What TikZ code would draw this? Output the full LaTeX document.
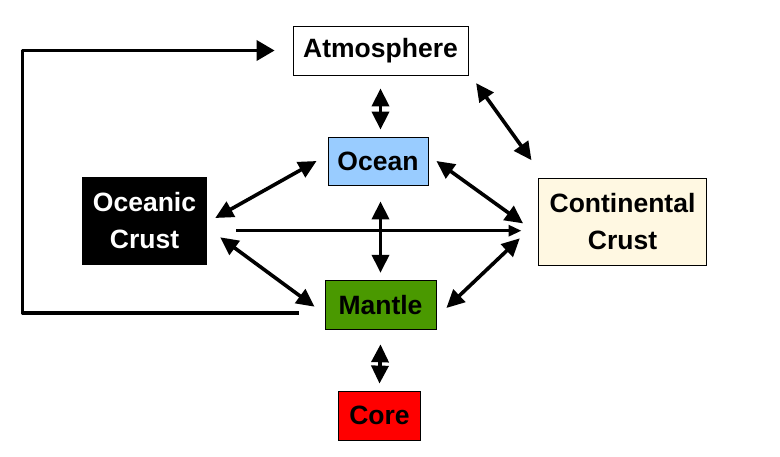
\documentclass[tikz,border=0pt]{standalone}
\usepackage{fontspec}
\setmainfont{Liberation Sans}
\usepackage{tikz}
\usetikzlibrary{arrows.meta, positioning}

\definecolor{oceanblue}{RGB}{153,204,255}
\definecolor{mantlegreen}{RGB}{74,153,0}
\definecolor{crustcream}{RGB}{255,248,226}

\tikzset{
    box/.style={draw, line width=0.8pt, inner sep=0pt, align=center,
        font=\bfseries\fontsize{26.5}{37}\selectfont},
    flow/.style={line width=3.6pt, {Triangle[length=18pt,width=17pt]}-{Triangle[length=18pt,width=17pt]}}
}

\begin{document}
\begin{tikzpicture}[x=1pt, y=-1pt]
        \useasboundingbox (0,0) rectangle (780,456);

        % Reservoirs
        \node[box, fill=white, minimum width=175pt, minimum height=49pt] (atm) at (380.5,50.5) {Atmosphere};
        \node[box, fill=oceanblue, minimum width=100pt, minimum height=48pt] (ocean) at (378,161) {Ocean};
        \node[box, fill=black, text=white, minimum width=124pt, minimum height=87pt] (ocrust) at (144.5,221) {Oceanic\\Crust};
        \node[box, fill=crustcream, minimum width=168pt, minimum height=87pt] (ccrust) at (622.5,221.7) {Continental\\Crust};
        \node[box, fill=mantlegreen, minimum width=111pt, minimum height=49pt] (mantle) at (380.5,304.7) {Mantle};
        \node[box, fill=red, minimum width=82pt, minimum height=49pt] (core) at (379.5,415.5) {Core};

        % Exchanges
        \draw[flow] ([yshift=-13pt]atm.south) -- ([xshift=2.5pt,yshift=7pt]ocean.north);
        \draw[flow] ([xshift=7.7pt,yshift=-7.7pt]atm.south east) -- ([xshift=-6.6pt,yshift=17.6pt]ccrust.north west);
        \draw[flow] ([xshift=-11pt]ocean.west) -- ([xshift=8.3pt,yshift=3pt]ocrust.east);
        \draw[flow] ([xshift=8pt]ocean.east) -- ([xshift=-15pt,yshift=-1.7pt]ccrust.west);
        \draw[flow] ([xshift=2.5pt,yshift=-16pt]ocean.south) -- ([yshift=7pt]mantle.north);
        \draw[flow] ([xshift=13.3pt,yshift=-16.3pt]ocrust.east) -- ([xshift=-10pt,yshift=-2pt]mantle.west);
        \draw[flow] ([xshift=10pt,yshift=-3.3pt]mantle.east) -- ([xshift=-18.3pt,yshift=-16.6pt]ccrust.west);
        \draw[flow] ([yshift=-14.7pt]mantle.south) -- ([yshift=7pt]core.north);
        \draw[line width=3pt, -{Triangle[length=13pt,width=11pt]}] ([xshift=29.3pt,yshift=-9.7pt]ocrust.east) -- ([xshift=-16.6pt,yshift=-9pt]ccrust.west);

        % Return path to the atmosphere
        \draw[line width=3.6pt, line join=round, -{Triangle[length=18pt,width=20pt]}] ([xshift=-26pt,yshift=-8pt]mantle.west) -- ++(-276,0) |- ([xshift=-18pt]atm.west);
    \end{tikzpicture}
\end{document}
